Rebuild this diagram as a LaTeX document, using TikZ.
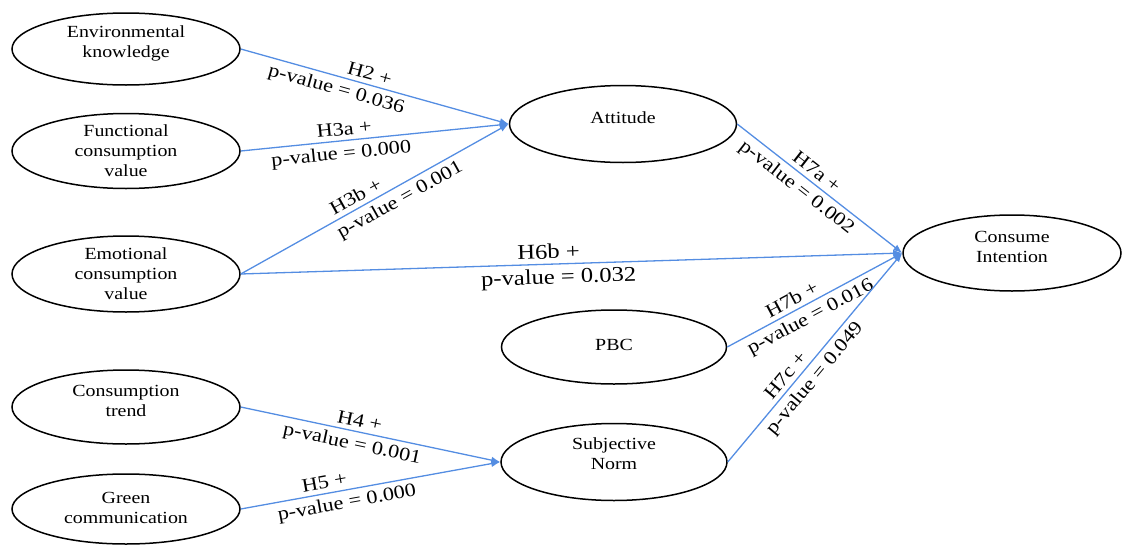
\documentclass[tikz,border=0pt]{standalone}
\usepackage{fontspec}
\setmainfont{Liberation Serif}[FakeStretch=1.17]
\usepackage{xcolor}
\usetikzlibrary{arrows.meta,shapes.geometric}
\definecolor{pathblue}{RGB}{84,141,226}

\tikzset{
  construct/.style={ellipse, draw, line width=1.5pt, minimum width=228pt,
                    minimum height=74pt, inner sep=0pt},
  cname/.style={font=\fontsize{17}{20}\selectfont, align=center, yshift=6pt},
  effect/.style={draw=pathblue, line width=1.3pt, -{Latex[length=9pt,width=7pt]}},
  hyp/.style={font=\fontsize{19}{22}\selectfont, sloped, inner sep=4.5pt},
}

\begin{document}
\begin{tikzpicture}[x=1pt,y=-1pt]
\useasboundingbox (0,0) rectangle (1122,544);
% constructs
\node[construct, minimum height=72pt, label={[cname]center:Environmental\\knowledge}] (env) at (126,49) {};
\node[construct, minimum height=75pt, label={[cname, yshift=-6pt]center:Functional\\consumption\\value}] (func) at (126,151) {};
\node[construct, minimum height=76pt, label={[cname, yshift=-6pt]center:Emotional\\consumption\\value}] (emo) at (126,274) {};
\node[construct, label={[cname]center:Consumption\\trend}] (trend) at (126,407) {};
\node[construct, minimum height=70pt, label={[cname, yshift=-5pt]center:Green\\communication}] (green) at (126,509) {};
\node[construct, minimum width=227pt, minimum height=77pt, label={[cname]center:Attitude}] (att) at (623,124) {};
\node[construct, minimum width=225pt, label={[cname, yshift=-4pt]center:PBC}] (pbc) at (614,347) {};
\node[construct, minimum width=226pt, minimum height=77pt, label={[cname, yshift=2pt]center:Subjective\\Norm}] (sn) at (614,462) {};
\node[construct, minimum width=218pt, minimum height=76pt, label={[cname]center:Consume\\Intention}] (ci) at (1012,253) {};

% hypothesised paths
\draw[effect] (env.east) -- node[hyp, above, pos=0.47] {H2 +} node[hyp, below, pos=0.37] {p-value = 0.036} (att.west);
\draw[effect] (func.east) -- node[hyp, above, pos=0.39] {H3a +} node[hyp, below, pos=0.37] {p-value = 0.000} (att.west);
\draw[effect] (emo.east) -- node[hyp, above, pos=0.45] {H3b +} node[hyp, below, pos=0.57] {p-value = 0.001} (att.west);
\draw[effect] (emo.east) -- node[hyp, above, pos=0.466, font=\fontsize{21}{24}\selectfont] {H6b +}
  node[hyp, below, pos=0.48, font=\fontsize{21}{24}\selectfont] {p-value = 0.032} (ci.west);
\draw[effect] (trend.east) -- node[hyp, above, pos=0.45] {H4 +} node[hyp, below, pos=0.44] {p-value = 0.001} (sn.west);
\draw[effect] (green.east) -- node[hyp, above, pos=0.33] {H5 +} node[hyp, below, pos=0.40] {p-value = 0.000} (sn.west);
\draw[effect] (att.east) -- node[hyp, above, pos=0.44] {H7a +} node[hyp, below, pos=0.41] {p-value = 0.002} (ci.west);
\draw[effect] (pbc.east) -- node[hyp, above, pos=0.40] {H7b +} node[hyp, below, pos=0.44] {p-value = 0.016} (ci.west);
\draw[effect] (sn.east) -- node[hyp, above, pos=0.38] {H7c +} node[hyp, below, pos=0.44] {p-value = 0.049} (ci.west);
\end{tikzpicture}
\end{document}
